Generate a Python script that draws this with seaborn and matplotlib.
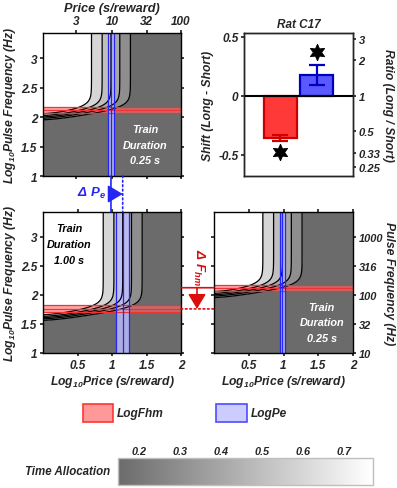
import numpy as np
import matplotlib
matplotlib.use("Agg")
import matplotlib.pyplot as plt
import seaborn as sns
from matplotlib.colors import LinearSegmentedColormap, Normalize
from matplotlib.patches import ConnectionPatch, Rectangle
import matplotlib.cm as cm

# ---------------- data ----------------
panel_durations = ["0.25 s", "1.00 s", "0.25 s"]
log_fhm = [2.125, 1.76, 2.125]
log_fhm_lo = [2.07, 1.70, 2.07]
log_fhm_hi = [2.18, 1.825, 2.18]
log_pe = [0.985, 1.155, 0.985]
log_pe_lo = [0.945, 1.06, 0.945]
log_pe_hi = [1.025, 1.24, 1.025]
ta_levels = [0.25, 0.35, 0.45, 0.55, 0.65]
# mountain-model parameters (shared)
gain_g = 6.5
slope_a = 2.0
ta_min, ta_max = 0.10, 0.80
p_min, p_bend = 1.0, 0.5

price_ticks = [3, 10, 32, 100]
freq_ticks = [10, 32, 100, 316, 1000]
ratio_ticks = [0.25, 0.33, 0.5, 1, 2, 3]

shift_params = ["LogFhm", "LogPe"]
shift_values = [-0.355, 0.172]
shift_errors = [0.025, 0.085]
star_y = [-0.475, 0.37]

cbar_ticks = [0.2, 0.3, 0.4, 0.5, 0.6, 0.7]

# ---------------- style ----------------
sns.set_theme(style="ticks")
FONT = ["Liberation Sans", "DejaVu Sans"]
NARROW = ["Liberation Sans Narrow", "Liberation Sans", "DejaVu Sans"]
plt.rcParams["font.family"] = FONT
plt.rcParams["font.weight"] = "bold"
plt.rcParams["font.style"] = "italic"
plt.rcParams["axes.labelweight"] = "bold"
plt.rcParams["axes.titleweight"] = "bold"
plt.rcParams["mathtext.fontset"] = "custom"
plt.rcParams["mathtext.rm"] = "Liberation Sans:italic:bold"
plt.rcParams["mathtext.it"] = "Liberation Sans:italic:bold"
plt.rcParams["mathtext.bf"] = "Liberation Sans:italic:bold"
plt.rcParams["axes.linewidth"] = 1.0
plt.rcParams["xtick.direction"] = "out"
plt.rcParams["ytick.direction"] = "out"
plt.rcParams["xtick.major.size"] = 2.5
plt.rcParams["ytick.major.size"] = 2.5

W, H = 397, 489
fig = plt.figure(figsize=(W / 100, H / 100), dpi=100)
fig.patch.set_facecolor("white")


def rect(l, t, r, b):
    return [l / W, (H - b) / H, (r - l) / W, (b - t) / H]


axA = fig.add_axes(rect(43, 34, 181, 177))
axR = fig.add_axes(rect(244, 34, 353, 177))
axB = fig.add_axes(rect(43, 213, 181, 354))
axC = fig.add_axes(rect(214, 213, 353, 354))

RED = (0.86, 0.05, 0.05)
BLUE = (0.15, 0.15, 0.95)
cmap = LinearSegmentedColormap.from_list("ta", [(0.42, 0.42, 0.42), (1, 1, 1)])
norm = Normalize(vmin=0.15, vmax=0.77)

lp = np.linspace(0, 2, 500)
lf = np.linspace(1, 3.43, 500)
LP, LF = np.meshgrid(lp, lf)


def mountain(logF, logP, lfhm, lpe):
    F = 10 ** logF
    P = 10 ** logP
    I = 1.0 / (1.0 + (10 ** lfhm / F) ** gain_g)
    Ps = p_min + p_bend * np.log1p(np.exp((P - p_min) / p_bend))
    U = I / Ps
    Ue = 1.0 / 10 ** lpe
    return ta_min + (ta_max - ta_min) * U ** slope_a / (U ** slope_a + Ue ** slope_a)


tick_fs = 8.5
lab_fs = 8.7
for i, ax in enumerate([axA, axB, axC]):
    Z = mountain(LF, LP, log_fhm[i], log_pe[i])
    ax.contourf(LP, LF, Z, levels=[0] + ta_levels + [1], cmap=cmap, norm=norm)
    ax.contour(LP, LF, Z, levels=ta_levels, colors="black", linewidths=0.9)
    ax.axhspan(log_fhm_lo[i], log_fhm_hi[i], color=(1, 0.42, 0.42), alpha=0.6, lw=0)
    for yv in (log_fhm_lo[i], log_fhm[i], log_fhm_hi[i]):
        ax.axhline(yv, color=(0.95, 0.2, 0.2), lw=0.9)
    ax.axvspan(log_pe_lo[i], log_pe_hi[i], color=(0.75, 0.75, 1.0), alpha=0.8, lw=0)
    for xv in (log_pe_lo[i], log_pe[i], log_pe_hi[i]):
        ax.axvline(xv, color=BLUE, lw=0.9)
    ax.set_xlim(0, 2)
    ax.set_ylim(1, 3.43)
    ax.set_xticks([0.5, 1, 1.5, 2])
    ax.set_xticklabels(["0.5", "1", "1.5", "2"])
    ax.set_yticks([1, 1.5, 2, 2.5, 3])
    ax.set_yticklabels(["1", "1.5", "2", "2.5", "3"])
    ax.tick_params(labelsize=tick_fs, top=True, right=True, pad=1.5)
    for s in ax.spines.values():
        s.set_visible(True)
        s.set_color("black")

# Panel A
axA.set_ylabel("Log$_{10}$Pulse Frequency (Hz)", fontsize=lab_fs, labelpad=2)
axA.tick_params(labelbottom=False, labeltop=True)
axA.set_xticks(np.log10(price_ticks))
axA.set_xticklabels([str(p) for p in price_ticks])
axA.set_xlabel("Price (s/reward)", fontsize=9.2, labelpad=3)
axA.xaxis.set_label_position("top")
axA.text(1.48, 1.53, "Train\nDuration\n" + panel_durations[0], color="white",
         fontsize=7.8, ha="center", va="center", linespacing=1.7)

# Panel B
axB.set_ylabel("Log$_{10}$Pulse Frequency (Hz)", fontsize=lab_fs, labelpad=2)
axB.set_xlabel("Log$_{10}$Price (s/reward)", fontsize=lab_fs, labelpad=2)
axB.text(0.38, 2.88, "Train\nDuration\n" + panel_durations[1], color="black",
         fontsize=7.8, ha="center", va="center", linespacing=1.7)

# Panel C
axC.set_xlabel("Log$_{10}$Price (s/reward)", fontsize=lab_fs, labelpad=2)
axC.tick_params(labelleft=False, labelright=True)
axC.set_yticklabels([str(f) for f in freq_ticks], family=NARROW, fontsize=7.9)
axC.yaxis.set_label_position("right")
axC.set_ylabel("Pulse Frequency (Hz)", fontsize=lab_fs, rotation=270,
               va="center", ha="center")
axC.yaxis.set_label_coords((389 - 214) / 139, 0.5)
axC.text(1.55, 1.53, "Train\nDuration\n" + panel_durations[2], color="white",
         fontsize=7.8, ha="center", va="center", linespacing=1.7)

# ---------------- bar panel ----------------
bar_colors = [(1.0, 0.22, 0.22), (0.35, 0.35, 1.0)]
edge_colors = [(0.8, 0.0, 0.0), (0.0, 0.0, 0.75)]
sns.barplot(x=shift_params, y=shift_values, hue=shift_params, palette=bar_colors,
            ax=axR, width=0.92, legend=False, saturation=1)
for p, ec in zip(axR.patches, edge_colors):
    p.set_edgecolor(ec)
    p.set_linewidth(1.6)
for i in range(2):
    axR.errorbar(i, shift_values[i], yerr=shift_errors[i], color=edge_colors[i],
                 capsize=6, elinewidth=1.6, capthick=1.6, fmt="none")
    axR.plot(i, star_y[i], marker=(6, 1, 0), color="black", markersize=12,
             markeredgewidth=0.6)
axR.axhline(0, color="black", lw=1.5)
axR.set_xlim(-1, 2)
axR.set_ylim(-0.68, 0.53)
axR.set_xticks([])
axR.set_xlabel("")
axR.set_yticks([-0.5, 0, 0.5])
axR.set_yticklabels(["-0.5", "0", "0.5"])
axR.tick_params(labelsize=tick_fs, pad=1.5)
axR.set_ylabel("Shift (Long - Short)", fontsize=lab_fs, labelpad=3)
axR.set_title("Rat C17", fontsize=8.5, pad=4, fontweight="bold", fontstyle="italic")
for s in axR.spines.values():
    s.set_visible(True)
    s.set_color("black")
axR2 = axR.twinx()
axR2.set_ylim(axR.get_ylim())
axR2.set_yticks(np.log10(ratio_ticks))
axR2.set_yticklabels([str(r) for r in ratio_ticks], family=NARROW, fontsize=8.1)
axR2.tick_params(pad=1.5)
axR2.set_ylabel("Ratio (Long / Short)", fontsize=lab_fs, rotation=270,
                va="center", ha="center")
axR2.yaxis.set_label_coords((388 - 244) / 109, 0.5)

# ---------------- connectors ----------------
ytopB = axB.get_ylim()[1]
for xv, ls in ((log_pe[0], "-"), (log_pe[1], ":")):
    con = ConnectionPatch(xyA=(xv, 1), coordsA=axA.transData,
                          xyB=(xv, ytopB), coordsB=axB.transData,
                          color=BLUE, lw=1.2, ls=ls)
    fig.add_artist(con)
yfig_pe = 1 - 195 / H
axA.annotate("", xy=(log_pe[1], yfig_pe), xytext=(log_pe[0], yfig_pe),
             xycoords=("data", "figure fraction"), textcoords=("data", "figure fraction"),
             arrowprops=dict(arrowstyle="-|>,head_length=0.75,head_width=0.45",
                             color=BLUE, lw=1.2, shrinkA=0, shrinkB=0))
fig.text(106 / W, 1 - 193 / H, r"$\Delta\ P_e$", color=BLUE, fontsize=9.5,
         ha="right", va="center")

for yv, ls in ((log_fhm[2], "-"), (log_fhm[1], ":")):
    con = ConnectionPatch(xyA=(2, yv), coordsA=axB.transData,
                          xyB=(0, yv), coordsB=axC.transData,
                          color=RED, lw=1.2, ls=ls)
    fig.add_artist(con)
xfig_fhm = 197 / W
axB.annotate("", xy=(xfig_fhm, log_fhm[1]), xytext=(xfig_fhm, log_fhm[2]),
             xycoords=("figure fraction", "data"), textcoords=("figure fraction", "data"),
             arrowprops=dict(arrowstyle="-|>,head_length=0.75,head_width=0.45",
                             color=RED, lw=1.2, shrinkA=0, shrinkB=0), annotation_clip=False)
fig.text(199 / W, 1 - 267 / H, r"$\Delta\ F_{hm}$", color=RED, fontsize=9.5,
         ha="center", va="center", rotation=-90)

# ---------------- legend ----------------
fig.patches.append(Rectangle((83 / W, 1 - 423 / H), 30 / W, 18 / H, transform=fig.transFigure,
                             facecolor=(1, 0.6, 0.6), edgecolor=(1, 0.2, 0.2), lw=1.2))
fig.text(117 / W, 1 - 414 / H, "LogFhm", fontsize=8.6, ha="left", va="center")
fig.patches.append(Rectangle((216 / W, 1 - 423 / H), 31 / W, 18 / H, transform=fig.transFigure,
                             facecolor=(0.8, 0.8, 1.0), edgecolor=(0.3, 0.3, 1.0), lw=1.2))
fig.text(251 / W, 1 - 414 / H, "LogPe", fontsize=8.6, ha="left", va="center")

# ---------------- colorbar ----------------
cax = fig.add_axes(rect(118, 459, 373, 486))
sm = cm.ScalarMappable(norm=norm, cmap=cmap)
cb = fig.colorbar(sm, cax=cax, orientation="horizontal", ticks=cbar_ticks)
cb.outline.set_edgecolor((0.75, 0.75, 0.75))
cax.xaxis.set_ticks_position("both")
cax.xaxis.set_label_position("top")
cax.tick_params(axis="x", direction="in", length=2, color=(0.5, 0.5, 0.5),
                labeltop=True, labelbottom=False, labelsize=7.8, pad=1.5)
cax.set_xticklabels([f"{t:.1f}" for t in cbar_ticks])
fig.text(110 / W, 1 - 472 / H, "Time Allocation", fontsize=8.3, ha="right", va="center")

fig.savefig("out.png", dpi=100)
